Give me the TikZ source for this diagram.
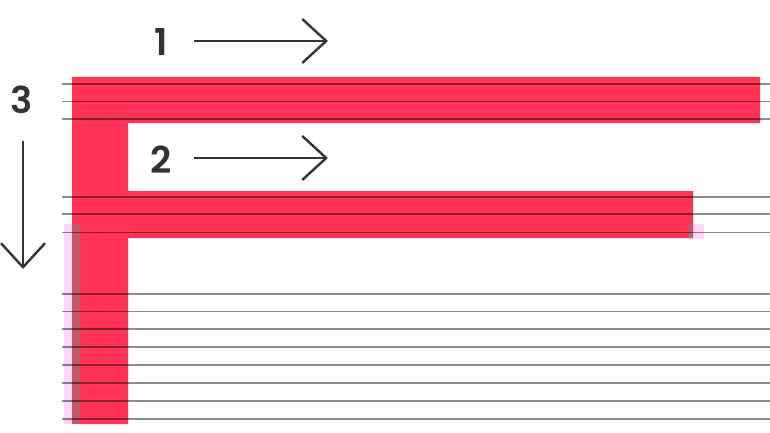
\documentclass[tikz,border=0pt]{standalone}
\usepackage{fontspec}
\setmainfont{Poppins}[BoldFont={Poppins SemiBold}]
\usetikzlibrary{arrows.meta}
\definecolor{fred}{RGB}{255,51,86}
\definecolor{fpink}{RGB}{255,214,248}
\definecolor{ink}{RGB}{51,51,51}
\tikzset{
  guide/.style={black,opacity=.45,line width=1.5pt},
  dirarrow/.style={ink,line width=2.4pt,-{Straight Barb[length=24pt,width=44pt,line width=2.4pt]}},
  steplabel/.style={ink,font=\bfseries\fontsize{37}{40}\selectfont,inner sep=0pt}
}
\begin{document}
\begin{tikzpicture}[x=1pt,y=-1pt]
\path[use as bounding box] (0,0) rectangle (770,433);
% soft highlight behind the stem
\fill[fpink] (64,224) rectangle (80,424);
\fill[fpink] (688,224) rectangle (704,239);
% the letter
\fill[fred] (72,77)--(760,77)--(760,123)--(128,123)--(128,191)--(693,191)--(693,238)--(128,238)--(128,424)--(72,424)--cycle;
\fill[gray,opacity=.5] (72,224) rectangle (80,424);
\fill[gray,opacity=.5] (688,224) rectangle (693,238);
% guide lines
\foreach \y in {84,101.5,119,197,214,232.5,294,311.5,329,347,365,383,401,419}
  \draw[guide] (62,\y)--(770,\y);
% strokes
\node[steplabel] (one) at (161,42) {1};
\node[steplabel] (two) at (161,160) {2};
\node[steplabel] (three) at (22,100) {3};
\coordinate (a1) at (194,41);  \coordinate (b1) at (328,41);
\coordinate (a2) at (194,158); \coordinate (b2) at (328,158);
\coordinate (a3) at (23,141);  \coordinate (b3) at (23,269);
\draw[dirarrow] (a1)--(b1);
\draw[dirarrow] (a2)--(b2);
\draw[dirarrow] (a3)--(b3);
\end{tikzpicture}
\end{document}
